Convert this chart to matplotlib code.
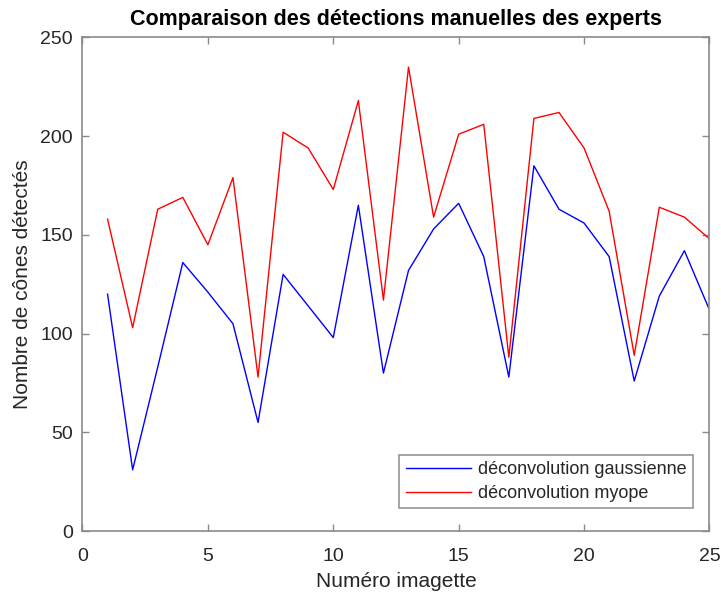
import numpy as np
import matplotlib.pyplot as plt

# =========================
# DATA
# =========================
imagette = np.arange(1, 26)

gaussienne = [120, 31, 83, 136, 121, 105, 55, 130, 114, 98,
              165, 80, 132, 153, 166, 139, 78, 185, 163, 156,
              139, 76, 119, 142, 112]

myope = [158, 103, 163, 169, 145, 179, 78, 202, 194, 173,
         218, 117, 235, 159, 201, 206, 88, 209, 212, 194,
         162, 89, 164, 159, 148]

labels = ["déconvolution gaussienne", "déconvolution myope"]

# =========================
# STYLE
# =========================
plt.rcParams["font.family"] = ["Liberation Sans", "DejaVu Sans"]
TXT = "#262626"
AXC = "#8a8a8a"

fig = plt.figure(figsize=(7.21, 5.92), dpi=100)
ax = fig.add_axes([0.1144, 0.103, 0.8696, 0.8337])

ax.plot(imagette, gaussienne, color="#0000ff", lw=1.0, label=labels[0])
ax.plot(imagette, myope, color="#ff0000", lw=1.0, label=labels[1])

ax.set_xlim(0, 25)
ax.set_ylim(0, 250)
ax.set_xticks(np.arange(0, 26, 5))
ax.set_yticks(np.arange(0, 251, 50))

for s in ax.spines.values():
    s.set_color(AXC)
    s.set_linewidth(1.2)
ax.tick_params(direction="in", length=5, width=1.0, color=AXC,
               labelsize=14, labelcolor=TXT, top=True, right=True,
               labeltop=False, labelright=False)
ax.tick_params(axis="x", pad=12)
ax.tick_params(axis="y", pad=7)

ax.set_title("Comparaison des détections manuelles des experts",
             fontsize=15.5, fontweight="bold", color="black", pad=9)
ax.set_xlabel("Numéro imagette", fontsize=15, color=TXT, labelpad=5)
ax.set_ylabel("Nombre de cônes détectés", fontsize=15, color=TXT, labelpad=6)

leg = ax.legend(loc="lower right", bbox_to_anchor=(0.9735, 0.046),
                fontsize=13, frameon=True, fancybox=False,
                handlelength=3.6, handletextpad=0.4, borderpad=0.35,
                labelspacing=0.38, borderaxespad=0.0)
leg.get_frame().set_edgecolor("#7a7a7a")
leg.get_frame().set_linewidth(1.2)
for t in leg.get_texts():
    t.set_color(TXT)

fig.savefig("out.png", dpi=100)
